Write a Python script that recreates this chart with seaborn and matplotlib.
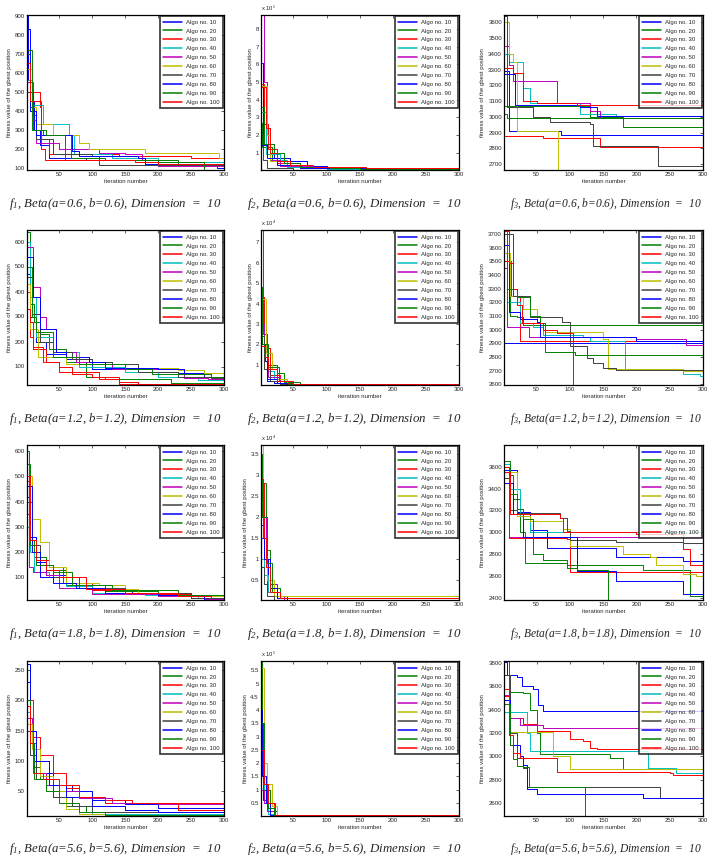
import numpy as np
import pandas as pd
import matplotlib
matplotlib.use('Agg')
import matplotlib.pyplot as plt
import seaborn as sns
from matplotlib.ticker import MultipleLocator, FuncFormatter

"""convergence of gbest fitness for 10 algorithm settings, 3 functions x 4 beta settings"""

algos = [f'Algo no. {n}' for n in range(10, 101, 10)]
colors = ['#0000ff', '#008000', '#ff0000', '#00bfbf', '#bf00bf',
          '#bfbf00', '#404040', '#0000ff', '#008000', '#ff0000']
last_iter = 300

# each series: (iteration, fitness) points where the gbest value changes
f1_beta06 = [
    [(1, 900), (3, 560), (8, 450), (12, 300), (20, 220), (35, 150), (90, 140), (180, 120), (290, 100)],
    [(1, 700), (5, 420), (10, 300), (25, 270), (68, 150), (120, 140), (230, 120)],
    [(1, 620), (5, 500), (20, 420), (22, 250), (35, 170), (140, 160), (250, 150)],
    [(1, 560), (8, 430), (25, 330), (65, 270), (72, 170), (130, 150), (200, 130)],
    [(1, 550), (10, 350), (15, 230), (50, 200), (110, 180), (150, 170), (175, 140), (200, 110)],
    [(1, 620), (8, 420), (15, 330), (40, 270), (80, 230), (95, 200), (180, 180), (293, 150)],
    [(1, 500), (10, 380), (15, 250), (40, 170), (100, 160), (110, 115), (170, 112)],
    [(1, 830), (6, 400), (15, 270), (70, 190), (80, 160), (170, 150), (180, 120)],
    [(1, 720), (8, 300), (30, 270), (58, 140), (200, 130), (270, 90)],
    [(1, 650), (6, 450), (22, 200), (28, 140), (165, 130), (200, 120)],
]
f2_beta06 = [
    [(1, 6.1), (4, 1.5), (10, 0.9), (20, 0.7), (45, 0.5), (70, 0.25), (100, 0.1), (150, 0.03)],
    [(1, 2.7), (3, 1.3), (18, 0.5), (40, 0.2), (100, 0.05)],
    [(1, 4.9), (6, 2.6), (12, 1.2), (25, 0.4), (60, 0.15), (100, 0.05)],
    [(1, 3.3), (8, 0.9), (30, 0.6), (40, 0.2), (100, 0.05)],
    [(1, 8.8), (6, 5.0), (10, 2.4), (15, 0.6), (30, 0.25), (80, 0.15), (150, 0.1), (220, 0.05)],
    [(1, 4.8), (10, 2.0), (15, 0.5), (25, 0.3), (60, 0.1)],
    [(1, 2.0), (4, 0.6), (10, 0.1), (50, 0.02)],
    [(1, 1.4), (10, 0.7), (25, 0.3), (60, 0.1)],
    [(1, 3.6), (5, 1.5), (20, 1.0), (35, 0.4), (60, 0.2), (105, 0.1), (150, 0.05)],
    [(1, 4.7), (8, 2.4), (14, 1.0), (25, 0.5), (45, 0.3), (80, 0.2), (160, 0.1), (300, 0.05)],
]
f3_beta06 = [
    [(1, 3290), (9, 2910), (87, 2885)],
    [(1, 3070), (130, 3000), (180, 2935)],
    [(1, 2875), (60, 2865), (145, 2805)],
    [(1, 3400), (8, 3350), (30, 3180), (40, 3085), (115, 3020), (170, 3005)],
    [(1, 3450), (8, 3330), (15, 3230), (80, 3085), (130, 3035), (145, 2990)],
    [(1, 3600), (8, 3400), (15, 3350), (20, 2910), (82, 2660)],
    [(1, 3640), (5, 3060), (45, 3000), (70, 2970), (130, 2955), (135, 2815), (232, 2685)],
    [(1, 3270), (17, 3075), (115, 3065), (140, 3005)],
    [(1, 3020), (6, 2995)],
    [(1, 3310), (15, 3280), (30, 3100), (50, 3085), (110, 3075)],
]

f1_beta12 = [
    [(1, 470), (5, 300), (15, 200), (30, 150), (60, 130), (100, 90), (170, 80), (230, 75), (270, 60)],
    [(1, 640), (5, 350), (12, 280), (20, 230), (35, 170), (60, 120), (90, 60), (120, 50), (220, 35)],
    [(1, 400), (5, 220), (10, 170), (30, 120), (50, 80), (110, 50), (140, 30)],
    [(1, 600), (6, 380), (15, 220), (40, 160), (80, 100), (150, 80), (200, 60), (260, 45)],
    [(1, 580), (10, 420), (20, 300), (30, 250), (45, 160), (75, 120), (130, 90), (240, 55), (275, 50)],
    [(1, 430), (6, 250), (18, 140), (60, 110), (150, 95), (230, 85), (270, 75)],
    [(1, 460), (8, 310), (20, 200), (40, 160), (70, 130), (100, 120), (130, 110), (170, 80), (230, 60), (280, 55)],
    [(1, 540), (10, 380), (20, 250), (45, 160), (60, 140), (95, 120), (120, 95), (200, 90), (240, 70), (280, 60)],
    [(1, 500), (8, 300), (15, 240), (40, 140), (80, 110), (150, 90), (190, 70), (280, 60)],
    [(1, 330), (5, 280), (10, 180), (25, 120), (50, 100), (70, 70), (100, 60), (140, 40), (170, 30)],
]
f2_beta12 = [
    [(1, 4.0), (5, 1.9), (10, 0.2), (20, 0.1), (50, 0.02)],
    [(1, 7.6), (4, 2.5), (10, 1.0), (25, 0.6), (35, 0.15), (60, 0.05)],
    [(1, 4.3), (5, 1.8), (15, 0.5), (30, 0.1), (50, 0.02)],
    [(1, 3.0), (6, 1.2), (10, 0.7), (20, 0.3), (40, 0.05)],
    [(1, 3.0), (6, 1.8), (12, 0.4), (30, 0.05)],
    [(1, 4.2), (8, 1.6), (18, 0.8), (25, 0.3), (40, 0.05)],
    [(1, 2.4), (5, 0.8), (15, 0.2), (30, 0.05)],
    [(1, 2.0), (7, 1.2), (10, 0.3), (25, 0.1), (40, 0.02)],
    [(1, 4.8), (3, 2.0), (12, 0.9), (28, 0.2), (45, 0.05)],
    [(1, 1.9), (7, 1.4), (12, 0.8), (22, 0.8), (25, 0.2), (50, 0.05)],
]
f3_beta12 = [
    [(1, 2900)],
    [(1, 3720), (5, 3300), (10, 3100), (20, 3090), (30, 3035)],
    [(1, 3500), (12, 3250), (25, 2915)],
    [(1, 3560), (5, 3200), (25, 3050), (45, 3020), (60, 2960), (120, 2950), (130, 2920), (183, 2710), (270, 2680), (295, 2660)],
    [(1, 3450), (6, 3020), (38, 2950), (200, 2930), (275, 2890)],
    [(1, 3560), (10, 3250), (30, 3150), (50, 3050), (62, 2980), (150, 2930), (158, 2710), (270, 2700)],
    [(1, 3700), (15, 3250), (40, 3090), (88, 3060), (100, 2880), (125, 2790), (135, 2760), (150, 2720), (170, 2705)],
    [(1, 3620), (8, 3130), (25, 3080), (50, 3060), (55, 2950), (150, 2945), (200, 2920)],
    [(1, 3700), (5, 3300), (20, 3240), (40, 3100), (55, 3050), (62, 2840), (108, 2815)],
    [(1, 3720), (8, 3490), (15, 3300), (20, 3180), (28, 3050), (60, 3000), (80, 2975), (104, 2590)],
]

f1_beta18 = [
    [(1, 420), (5, 260), (15, 160), (30, 110), (60, 80), (100, 50), (160, 35), (230, 25), (280, 15)],
    [(1, 600), (4, 250), (12, 180), (30, 130), (60, 70), (120, 45), (200, 30), (300, 20)],
    [(1, 480), (5, 250), (15, 170), (35, 140), (55, 80), (100, 50), (150, 35), (250, 18)],
    [(1, 300), (6, 200), (12, 120), (35, 100), (60, 65), (100, 40), (180, 30), (260, 18)],
    [(1, 350), (4, 140), (10, 120), (30, 110), (50, 60), (100, 35), (200, 25), (270, 15)],
    [(1, 500), (8, 330), (20, 240), (35, 140), (60, 80), (110, 70), (150, 55), (170, 40), (250, 25), (300, 20)],
    [(1, 400), (8, 230), (20, 150), (40, 100), (80, 60), (150, 40), (250, 20)],
    [(1, 460), (8, 200), (20, 100), (40, 80), (75, 60), (120, 40), (200, 30), (270, 12)],
    [(1, 550), (5, 230), (15, 150), (40, 120), (70, 70), (130, 50), (230, 30), (300, 25)],
    [(1, 500), (5, 250), (15, 170), (30, 130), (50, 100), (90, 55), (150, 38), (230, 25), (280, 12)],
]
f2_beta18 = [
    [(1, 1.8), (5, 1.0), (12, 0.2), (20, 0.1), (40, 0.02)],
    [(1, 3.0), (4, 2.8), (8, 1.2), (15, 0.3), (30, 0.05)],
    [(1, 2.8), (5, 0.6), (10, 0.2), (25, 0.05)],
    [(1, 1.0), (6, 0.6), (12, 0.2), (30, 0.05)],
    [(1, 2.0), (8, 0.8), (15, 0.4), (25, 0.1), (35, 0.02)],
    [(1, 3.72), (4, 1.5), (10, 0.5), (20, 0.1)],
    [(1, 0.8), (5, 0.4), (10, 0.1), (20, 0.02)],
    [(1, 1.5), (6, 1.0), (14, 0.3), (25, 0.05)],
    [(1, 3.5), (3, 2.0), (10, 0.9), (18, 0.2), (30, 0.05)],
    [(1, 2.9), (4, 1.5), (9, 0.8), (15, 0.2), (30, 0.05)],
]
f3_beta18 = [
    [(1, 3570), (20, 3190), (40, 3020), (65, 2860), (170, 2780), (270, 2740)],
    [(1, 3600), (8, 3520), (15, 3300), (25, 3000), (32, 2720), (95, 2700), (210, 2660), (280, 2420), (300, 2410)],
    [(1, 3600), (8, 2950), (95, 2940), (100, 2640), (300, 2610)],
    [(1, 3620), (10, 3400), (25, 3150), (40, 3000), (300, 2990)],
    [(1, 3450), (8, 2960)],
    [(1, 3550), (20, 3150), (40, 3100), (90, 3030), (100, 2880), (180, 2800), (220, 2780), (230, 2700), (270, 2620), (290, 2600)],
    [(1, 3500), (10, 3200), (20, 3180), (85, 3130), (95, 3010), (100, 2930), (170, 2910), (270, 2900)],
    [(1, 3450), (15, 3170), (30, 2960), (70, 2960), (110, 2650), (170, 2560), (270, 2440)],
    [(1, 3650), (10, 3350), (20, 3210), (30, 3120), (45, 2800), (60, 2750), (95, 2680), (110, 2660), (157, 2385)],
    [(1, 3550), (10, 3170), (85, 3130), (90, 3000), (200, 2990), (270, 2850), (280, 2700)],
]

f1_beta56 = [
    [(1, 230), (5, 160), (10, 100), (20, 80), (40, 60), (70, 50), (100, 35), (150, 28), (200, 22), (300, 20)],
    [(1, 250), (5, 150), (10, 90), (20, 70), (40, 40), (60, 25), (90, 15), (120, 10), (300, 8)],
    [(1, 200), (10, 140), (20, 110), (40, 80), (60, 55), (80, 40), (120, 30), (300, 28)],
    [(1, 180), (5, 130), (15, 80), (30, 60), (50, 40), (70, 25), (100, 12), (300, 9)],
    [(1, 170), (8, 130), (15, 80), (30, 60), (50, 50), (80, 38), (130, 30), (200, 28), (300, 26)],
    [(1, 160), (8, 120), (20, 75), (40, 50), (60, 20), (80, 12), (120, 9)],
    [(1, 150), (6, 110), (15, 70), (40, 40), (70, 25), (100, 15), (300, 12)],
    [(1, 260), (6, 150), (15, 100), (35, 60), (60, 40), (100, 25), (150, 18), (200, 15), (300, 14)],
    [(1, 200), (5, 130), (12, 70), (30, 50), (50, 30), (80, 15), (120, 8)],
    [(1, 190), (5, 130), (10, 80), (25, 70), (50, 60), (80, 40), (120, 35), (160, 30), (230, 18), (300, 16)],
]
f2_beta56 = [
    [(1, 1.5), (4, 0.6), (10, 0.2), (20, 0.02)],
    [(1, 5.85), (3, 3.5), (6, 1.0), (15, 0.2), (25, 0.02)],
    [(1, 2.8), (5, 1.2), (10, 0.5), (20, 0.05)],
    [(1, 1.5), (5, 0.5), (12, 0.1), (20, 0.02)],
    [(1, 1.0), (5, 0.5), (10, 0.2), (20, 0.02)],
    [(1, 5.6), (5, 2.0), (10, 1.2), (18, 0.4), (25, 0.05)],
    [(1, 3.5), (4, 1.0), (10, 0.3), (20, 0.02)],
    [(1, 4.0), (3, 1.5), (8, 0.5), (15, 0.05)],
    [(1, 3.5), (5, 1.2), (12, 0.3), (20, 0.05)],
    [(1, 2.5), (6, 1.2), (12, 0.5), (22, 0.05)],
]
f3_beta56 = [
    [(1, 3810), (5, 3700), (20, 3680), (28, 3600), (45, 3580), (52, 3440), (60, 3390)],
    [(1, 3820), (8, 3550), (30, 3540), (40, 3400), (50, 3200), (55, 3020), (150, 3020), (160, 2990), (180, 2890), (300, 2880)],
    [(1, 3520), (10, 3330), (30, 3280), (50, 3220), (100, 3150), (120, 3130), (130, 3070), (140, 3060)],
    [(1, 3380), (30, 3380), (35, 3200), (40, 3050), (215, 3050), (218, 2900), (260, 2860)],
    [(1, 3530), (10, 3330), (25, 3270), (60, 3240)],
    [(1, 3450), (8, 3210), (70, 3210), (75, 3000), (100, 2895)],
    [(1, 3700), (10, 3200), (20, 2990), (30, 2900), (35, 2740), (236, 2640)],
    [(1, 3480), (10, 3100), (25, 3000), (30, 2930), (35, 2720), (50, 2680), (210, 2640)],
    [(1, 3450), (10, 3100), (15, 2980), (20, 2920), (30, 2910), (38, 2740), (123, 2480)],
    [(1, 3580), (8, 3180), (15, 3030), (25, 2990), (80, 2870), (250, 2860), (255, 2840)],
]

beta_labels = ['a=0.6, b=0.6', 'a=1.2, b=1.2', 'a=1.8, b=1.8', 'a=5.6, b=5.6']

# (data, function no., y limits, y tick step, exponent of the y axis)
panels = [
    [(f1_beta06, 1, (88, 905), 100, 0), (f2_beta06, 2, (0.01, 8.8), 1, 5), (f3_beta06, 3, (2662, 3647), 100, 0)],
    [(f1_beta12, 1, (26, 646), 100, 0), (f2_beta12, 2, (0.01, 7.6), 1, 4), (f3_beta12, 3, (2596, 3729), 100, 0)],
    [(f1_beta18, 1, (11, 624), 100, 0), (f2_beta18, 2, (0.01, 3.72), 0.5, 4), (f3_beta18, 3, (2385, 3796), 200, 0)],
    [(f1_beta56, 1, (8.6, 265), 50, 0), (f2_beta56, 2, (0.01, 5.85), 0.5, 5), (f3_beta56, 3, (2490, 3817), 200, 0)],
]


def to_frame(series, scale):
    rows = []
    for name, pts in zip(algos, series):
        pts = list(pts) + [(last_iter, pts[-1][1])]
        for x, y in pts:
            rows.append((name, x, y * scale))
    return pd.DataFrame(rows, columns=['algo', 'iteration', 'fitness'])


def draw_panel(ax, series, ylim, step, exp):
    scale = 10 ** exp
    df = to_frame(series, scale)
    sns.lineplot(data=df, x='iteration', y='fitness', hue='algo', hue_order=algos,
                 palette=colors, estimator=None, drawstyle='steps-post',
                 linewidth=0.7, ax=ax)
    ax.set_xlim(1, last_iter)
    ax.set_ylim(ylim[0] * scale, ylim[1] * scale)
    ax.xaxis.set_major_locator(MultipleLocator(50))
    ax.yaxis.set_major_locator(MultipleLocator(step * scale))
    ax.yaxis.set_major_formatter(FuncFormatter(lambda v, p: f'{v / scale:g}'))
    if exp:
        ax.text(0.0, 1.015, f'x 10$^{{{exp}}}$', transform=ax.transAxes,
                fontsize=4.2, ha='left', va='bottom', family='Liberation Sans')
    ax.tick_params(direction='in', labelsize=4.4, length=2, width=0.5,
                   top=True, right=True, pad=1.5)
    ax.set_xlabel('iteration number', fontsize=4.3, labelpad=1.5)
    ax.set_ylabel('fitness value of the gbest position', fontsize=4.3, labelpad=2)
    for sp in ax.spines.values():
        sp.set_linewidth(0.9)
        sp.set_color('black')
    handles, labels = ax.get_legend_handles_labels()
    leg = ax.legend(handles, labels, loc='upper right', fontsize=4.3,
                    handlelength=3.2, handletextpad=0.6, labelspacing=0.62,
                    borderpad=0.5, borderaxespad=0.25, fancybox=False)
    leg.get_frame().set_edgecolor('black')
    leg.get_frame().set_linewidth(1.2)
    for line in leg.get_lines():
        line.set_linewidth(1.1)


sns.set_style('white')
plt.rcParams['font.family'] = ['Liberation Sans', 'DejaVu Sans']
plt.rcParams['mathtext.fontset'] = 'custom'
plt.rcParams['mathtext.it'] = 'Liberation Serif:italic'
plt.rcParams['mathtext.rm'] = 'Liberation Serif:italic'

W, H = 709, 856
fig = plt.figure(figsize=(W / 100, H / 100), dpi=100)
col_left = [27, 261, 504]
col_width = [197, 198, 199]
row_top = [15, 230, 445, 661]
ax_h = 155
cap_x = [115, 354, 606]
cap_y = [204, 419, 634, 849]
cap_w = [212, 214, 192]

captions = []
for r, row in enumerate(panels):
    for c, (series, fn, ylim, step, exp) in enumerate(row):
        ax = fig.add_axes([col_left[c] / W, 1 - (row_top[r] + ax_h) / H,
                           col_width[c] / W, ax_h / H])
        draw_panel(ax, series, ylim, step, exp)
        caption = f'$f_{{{fn}}}$, Beta({beta_labels[r]}), Dimension  =  10'
        t = fig.text(cap_x[c] / W, 1 - cap_y[r] / H, caption, ha='center', va='center',
                     fontsize=9, family='Liberation Serif', style='italic')
        captions.append((t, cap_w[c]))

# shrink captions so they fit under their panel
fig.canvas.draw()
renderer = fig.canvas.get_renderer()
for t, target in captions:
    w = t.get_window_extent(renderer).width
    t.set_fontsize(t.get_fontsize() * target / w)

fig.savefig('out.png', dpi=100)
plt.close()
